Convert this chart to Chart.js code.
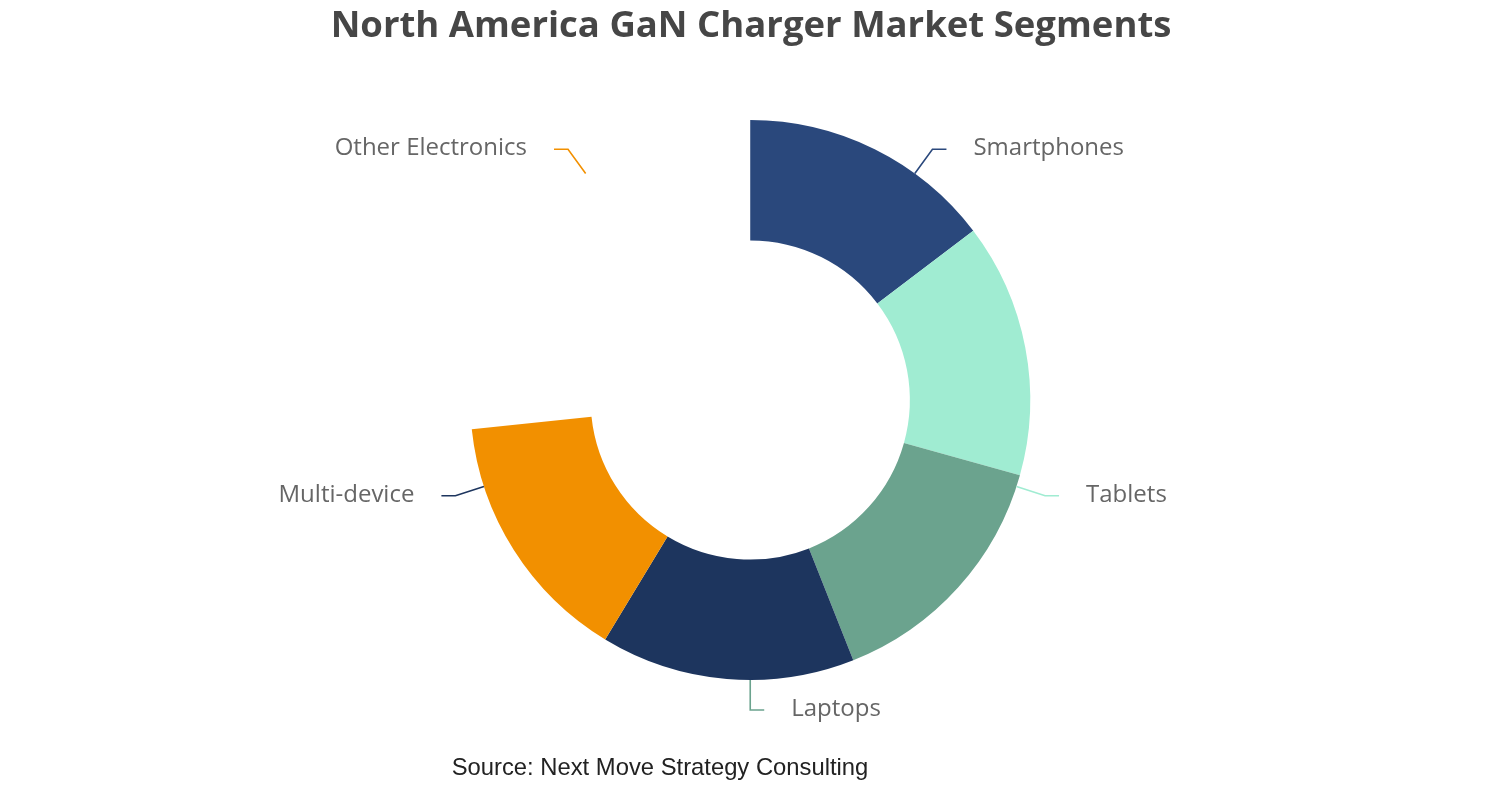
<!DOCTYPE html>
<html>
<head>
<meta charset="utf-8">
<script src="https://cdn.jsdelivr.net/npm/chart.js@4/dist/chart.umd.min.js"></script>
<style>
  body { margin: 0; background: #fff; }
  #wrap { width: 1502px; height: 800px; position: relative; }
</style>
</head>
<body>
<div id="wrap"><canvas id="segments"></canvas></div>
<script>
const categories = ["Smartphones", "Tablets", "Laptops", "Multi-device", "Other Electronics"];
const shares = [20, 20, 20, 20, 20];
const sliceColors = ["#2a487c", "#a0ecd2", "#6ba38e", "#1d355e", "#f29000"];

const chartTitle = "North America GaN Charger Market Segments";
const sourceNote = "Source: Next Move Strategy Consulting";

const segmentCanvas = document.querySelector("#segments");

// labels with a bent leader line, placed like the finished pie
const leaderLabels = {
  id: "leaderLabels",
  afterDraw(chart) {
    const ctx = chart.ctx;
    const meta = chart.getDatasetMeta(0);
    const { x, y, outerRadius } = meta.data[0].getProps(["x", "y", "outerRadius"], true);
    const total = shares.reduce((a, b) => a + b, 0);
    let acc = 0;

    ctx.save();
    shares.forEach((v, i) => {
      const mid = ((acc + v / 2) / total) * Math.PI * 2 - Math.PI / 2;
      acc += v;
      const c = Math.cos(mid);
      const s = Math.sin(mid);
      const dir = c >= 0 ? 1 : -1;
      const x1 = x + c * outerRadius, y1 = y + s * outerRadius;
      const x2 = x + c * (outerRadius + 30), y2 = y + s * (outerRadius + 30);
      const x3 = x2 + dir * 14;

      ctx.strokeStyle = sliceColors[i];
      ctx.lineWidth = 1.6;
      ctx.beginPath();
      ctx.moveTo(x1, y1);
      ctx.lineTo(x2, y2);
      ctx.lineTo(x3, y2);
      ctx.stroke();

      ctx.fillStyle = "#666";
      ctx.font = "24px 'Open Sans'";
      ctx.textAlign = dir > 0 ? "left" : "right";
      ctx.textBaseline = "middle";
      ctx.fillText(categories[i], x3 + dir * 27, y2 - 1);
    });

    // title and source
    ctx.fillStyle = "#464646";
    ctx.font = "bold 36.5px 'Open Sans'";
    ctx.textAlign = "center";
    ctx.textBaseline = "alphabetic";
    ctx.fillText(chartTitle, 751, 37);

    ctx.fillStyle = "#222";
    ctx.font = "23.8px 'Liberation Sans'";
    ctx.fillText(sourceNote, 660, 775);
    ctx.restore();
  },
};

const chartConfig = {
  type: "doughnut",
  data: {
    labels: categories,
    datasets: [
      {
        data: shares,
        backgroundColor: sliceColors,
        borderWidth: 0,
      },
    ],
  },
  options: {
    responsive: true,
    maintainAspectRatio: false,
    animation: false,
    cutout: "57%",
    rotation: 0,
    circumference: 264,
    layout: { padding: { top: 120, bottom: 120 } },
    plugins: {
      legend: { display: false },
      tooltip: { enabled: false },
    },
  },
  plugins: [leaderLabels],
};

const chart = new Chart(segmentCanvas, chartConfig);
</script>
</body>
</html>
